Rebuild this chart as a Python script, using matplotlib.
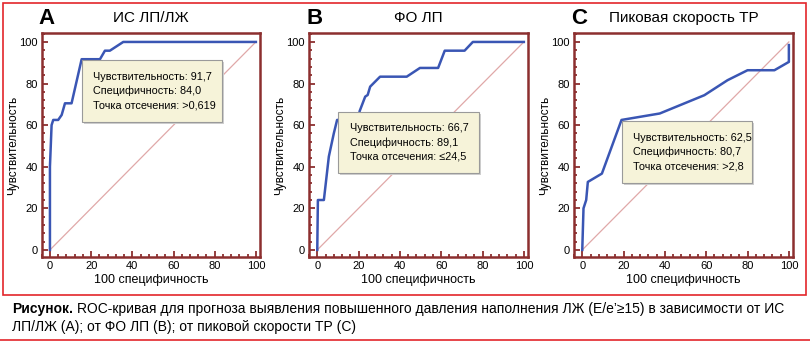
"""ROC curves for three predictors of elevated LV filling pressure (three panels + caption)"""
import matplotlib
matplotlib.use('Agg')
import matplotlib.pyplot as plt
from matplotlib.ticker import MultipleLocator
from matplotlib.patches import Rectangle
from matplotlib.lines import Line2D

FONT = ['Liberation Sans Narrow', 'Liberation Sans', 'DejaVu Sans']
plt.rcParams['font.family'] = FONT

W, H = 810, 341

PANEL_LETTERS = ['A', 'B', 'C']
PANEL_TITLES = ['ИС ЛП/ЛЖ', 'ФО ЛП', 'Пиковая скорость ТР']

# ROC points: x = 100 - specificity, y = sensitivity
ROC_A_X = [0, 0, 0.8, 1.6, 4.0, 5.7, 7.3, 10.5, 15.4, 24.3, 26.7, 29.1, 35.6, 100]
ROC_A_Y = [0, 40, 60, 62.5, 62.5, 64.9, 70.5, 70.5, 91.7, 91.7, 95.8, 95.8, 100, 100]

ROC_B_X = [0, 0.3, 3.2, 5.6, 8.0, 9.6, 12.0, 20.0, 20.5, 23.2, 24.4, 25.6, 30.4, 43.3, 49.7, 58.5,
           61.7, 71.3, 75.3, 100]
ROC_B_Y = [0, 24, 24, 44.9, 56, 62.5, 62.5, 62.5, 66.7, 73.7, 74.5, 78.5, 83.3, 83.3, 87.5, 87.5,
           95.8, 95.8, 100, 100]

ROC_C_X = [0, 0.6, 1.9, 2.7, 9.5, 19.0, 37.5, 59.1, 70.3, 80.0, 93.0, 100, 100]
ROC_C_Y = [0, 20.0, 24.0, 32.7, 36.7, 62.5, 65.6, 74.4, 81.6, 86.4, 86.4, 90.4, 98.5]

BOX_TEXTS = [
    'Чувствительность: 91,7\nСпецифичность: 84,0\nТочка отсечения: >0,619',
    'Чувствительность: 66,7\nСпецифичность: 89,1\nТочка отсечения: ≤24,5',
    'Чувствительность: 62,5\nСпецифичность: 80,7\nТочка отсечения: >2,8',
]
# box corners in data units (x0, y0, x1, y1)
BOX_POS = [(15.5, 61.5, 83.5, 91.3), (10.2, 37.0, 78.5, 66.3), (19.2, 32.2, 82.2, 62.0)]

XLIM = (-4.0, 102.0)
YLIM = (-3.4, 104.3)

SPINE_COLOR = '#8c2f2f'
CURVE_COLOR = '#3a56b4'
DIAG_COLOR = '#e0a8a8'
FRAME_RED = '#e3262b'

# axes pixel boxes (left, top, right, bottom)
AX_PIX = [(41.7, 33, 260, 257), (309, 33, 528, 257), (574, 33, 793, 257)]

fig = plt.figure(figsize=(W / 100, H / 100), dpi=100)

curves = [(ROC_A_X, ROC_A_Y), (ROC_B_X, ROC_B_Y), (ROC_C_X, ROC_C_Y)]

for i, (l, t, r, b) in enumerate(AX_PIX):
    ax = fig.add_axes([l / W, (H - b) / H, (r - l) / W, (b - t) / H])
    xs, ys = curves[i]
    ax.plot([0, 100], [0, 100], color=DIAG_COLOR, lw=0.9, zorder=2)
    ax.plot(xs, ys, color=CURVE_COLOR, lw=1.8, zorder=3, solid_joinstyle='round')
    ax.set_xlim(*XLIM)
    ax.set_ylim(*YLIM)
    ax.xaxis.set_major_locator(MultipleLocator(20))
    ax.yaxis.set_major_locator(MultipleLocator(20))
    ax.xaxis.set_minor_locator(MultipleLocator(4))
    ax.yaxis.set_minor_locator(MultipleLocator(4))
    ax.tick_params(which='both', direction='in', color=SPINE_COLOR, width=1.3,
                   labelsize=8, pad=3)
    ax.tick_params(which='major', length=4.5)
    ax.tick_params(which='minor', length=2.5)
    for s in ax.spines.values():
        s.set_color(SPINE_COLOR)
        s.set_linewidth(1.8)
    ax.set_xlabel('100 специфичность', fontsize=9, labelpad=2)
    ax.set_ylabel('Чувствительность', fontsize=8.5, labelpad=0)

    x0, y0, x1, y1 = BOX_POS[i]
    shadow = Rectangle((x0 + 0.8, y0 - 0.8), x1 - x0, y1 - y0, facecolor='#cfcfcf',
                       edgecolor='none', zorder=4)
    ax.add_patch(shadow)
    box = Rectangle((x0, y0), x1 - x0, y1 - y0, facecolor='#f6f3d9',
                    edgecolor='#9a9a9a', lw=0.8, zorder=5)
    ax.add_patch(box)
    ax.text(x0 + 5.5, (y0 + y1) / 2, BOX_TEXTS[i], fontsize=7.8, va='center', ha='left',
            linespacing=1.5, zorder=6)

    fig.text((l - 3) / W, 1 - 18 / H, PANEL_LETTERS[i], fontsize=16, fontweight='bold',
             va='center', ha='left')
    fig.text((l + r) / 2 / W, 1 - 18 / H, PANEL_TITLES[i], fontsize=11,
             va='center', ha='center')

# red frame around the charts and line under the caption
fig.add_artist(Rectangle((3 / W, 1 - 295 / H), 803 / W, 292 / H, transform=fig.transFigure,
                         fill=False, edgecolor=FRAME_RED, lw=1.2))
fig.add_artist(Line2D([0, 1], [1 - 339.5 / H] * 2, transform=fig.transFigure,
                      color=FRAME_RED, lw=1.2))

# caption, bold lead word then regular text
lead = fig.text(12 / W, 1 - 309 / H, 'Рисунок.', fontsize=10, fontweight='bold',
                va='center', ha='left')
fig.canvas.draw()
bb = lead.get_window_extent()
fig.text((bb.x1 + 4) / W, 1 - 309 / H,
         'ROC-кривая для прогноза выявления повышенного давления наполнения ЛЖ (E/e’≥15) '
         'в зависимости от ИС', fontsize=10, va='center', ha='left')
fig.text(12 / W, 1 - 327 / H, 'ЛП/ЛЖ (А); от ФО ЛП (В); от пиковой скорости ТР (С)',
         fontsize=10, va='center', ha='left')

fig.savefig('out.png', dpi=100)
